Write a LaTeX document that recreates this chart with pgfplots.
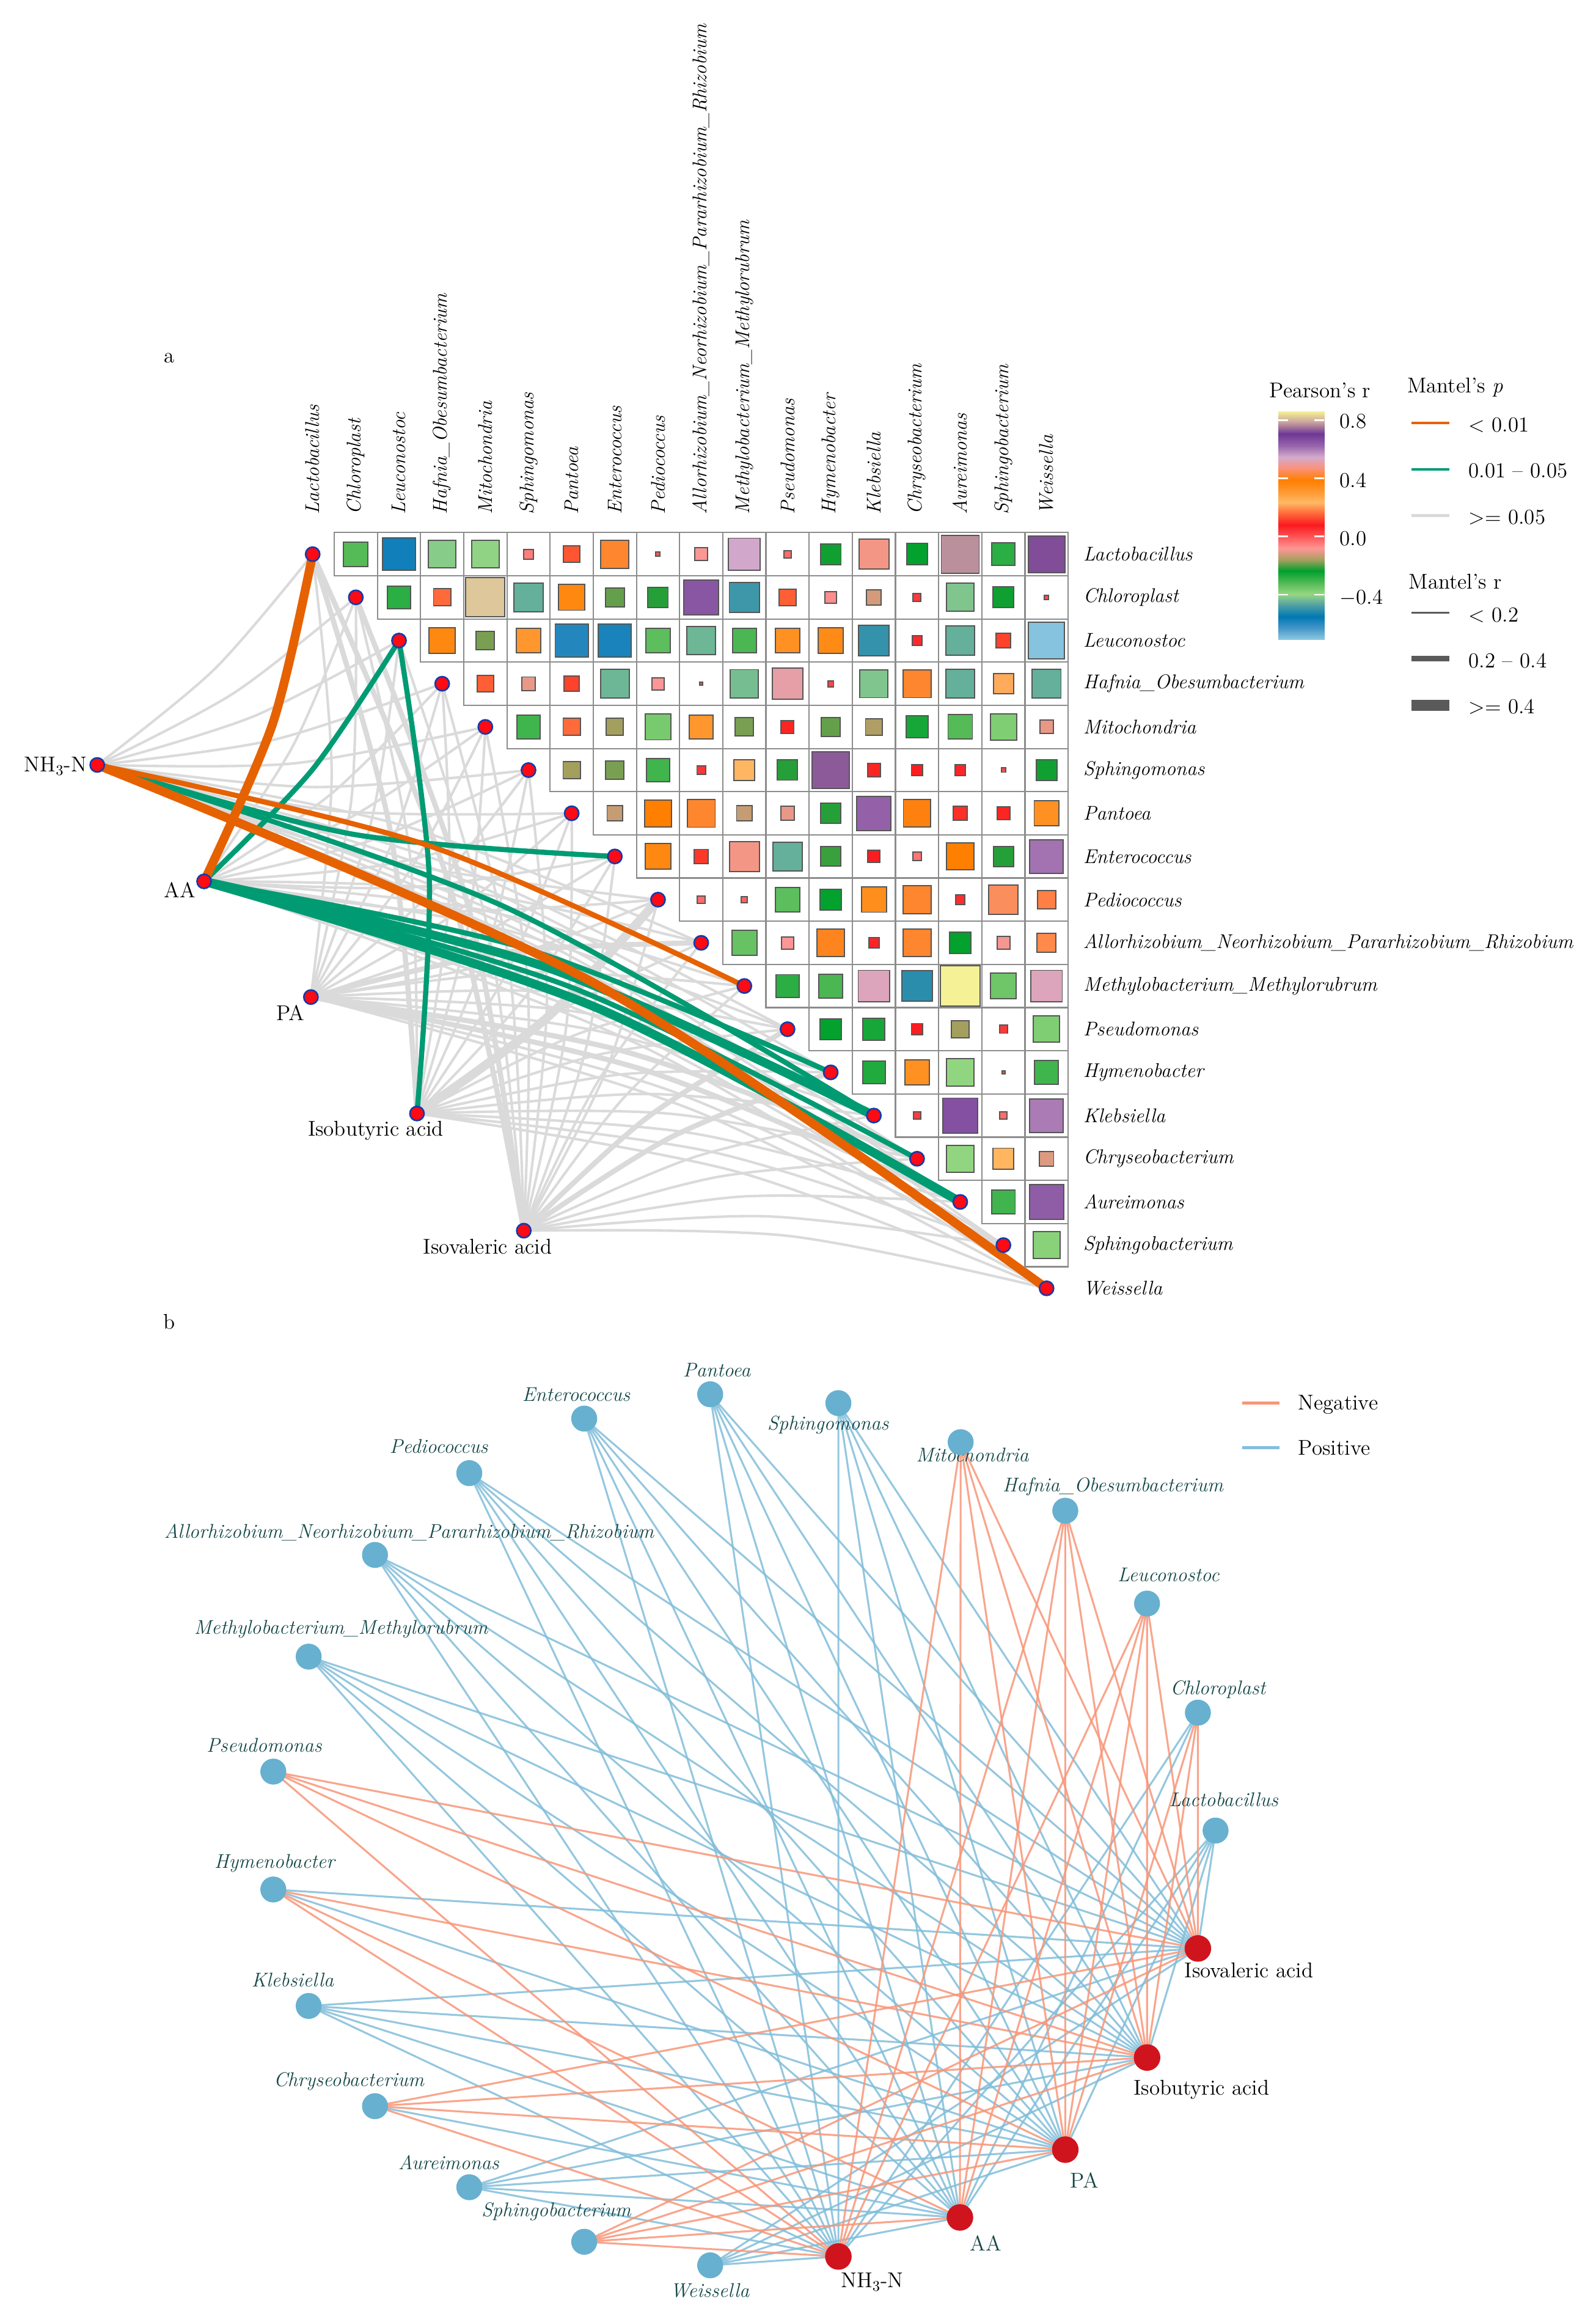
\documentclass[border=0pt]{standalone}
\usepackage{pgfplots}
\usepackage{pgfplotstable}
\pgfplotsset{compat=1.18}

\definecolor{lgray}{RGB}{218,218,218}
\definecolor{lorange}{RGB}{230,97,0}
\definecolor{lgreen}{RGB}{0,155,115}
\definecolor{gridc}{RGB}{140,140,140}
\definecolor{sqb}{RGB}{85,85,85}
\definecolor{dotred}{RGB}{255,10,20}
\definecolor{dotblue}{RGB}{20,60,170}
\definecolor{nodeblue}{RGB}{103,176,208}
\definecolor{nodered}{RGB}{208,20,30}
\definecolor{negc}{RGB}{248,150,120}
\definecolor{posc}{RGB}{130,190,218}
\definecolor{labteal}{RGB}{22,72,72}
\definecolor{legdark}{RGB}{90,90,90}

\newcommand\lab{\fontsize{13.5}{16}\selectfont}
\newcommand\labr{\fontsize{14.5}{17}\selectfont}
% one Mantel link: env point, bend point, taxon point
\newcommand\lk[4]{\addplot[#1] coordinates {(#2) (#3) (#4)};}
% network edges from one taxon to all five env nodes
\newcommand\eall[2]{\addplot[#1] coordinates {(#2) (569,1531) (#2) (651.5,1504.5) (#2) (723,1458.5) (#2) (778.5,1396) (#2) (813,1322)};}

\pgfplotsset{
  lkg/.style={smooth, no markers, draw=lgray, line width=1.7pt},
  lkgm/.style={lkg, line width=3.5pt},
  lkgt/.style={lkg, line width=6pt},
  lkom/.style={smooth, no markers, draw=lorange, line width=3.5pt},
  lkot/.style={lkom, line width=6pt},
  lkem/.style={smooth, no markers, draw=lgreen, line width=3.5pt},
  lket/.style={lkem, line width=6pt},
  edgep/.style={no markers, draw=posc, line width=1.3pt, line join=round, opacity=0.85},
  edgen/.style={no markers, draw=negc, line width=1.3pt, line join=round, opacity=0.85},
}
\tikzset{
  cl/.style={rotate=90, anchor=west, inner sep=0pt, font=\lab\itshape},
  rl/.style={anchor=west, inner sep=0pt, font=\lab\itshape},
  bl/.style={inner sep=0pt, font=\lab\itshape, text=labteal},
  tx/.style={inner sep=0pt, font=\labr},
}

% Pearson's r between taxa (row i, column j)
\pgfplotstableread{
i j r
0 1 -0.32
0 2 -0.57
0 3 -0.41
0 4 -0.40
0 5 -0.05
0 6 0.14
0 7 0.42
0 8 -0.01
0 9 -0.085
0 10 0.55
0 11 -0.03
0 12 -0.23
0 13 0.48
0 14 -0.24
0 15 0.77
0 16 -0.28
0 17 0.72
1 2 -0.28
1 3 0.16
1 4 0.82
1 5 -0.45
1 6 0.36
1 7 -0.19
1 8 -0.22
1 9 0.65
1 10 -0.49
1 11 0.15
1 12 -0.07
1 13 -0.12
1 14 0.035
1 15 -0.42
1 16 -0.23
1 17 0.01
2 3 0.36
2 4 -0.18
2 5 0.31
2 6 -0.59
2 7 -0.58
2 8 -0.33
2 9 -0.44
2 10 -0.31
2 11 0.33
2 12 0.35
2 13 -0.50
2 14 0.055
2 15 -0.45
2 16 0.12
2 17 -0.70
3 4 0.15
3 5 -0.10
3 6 0.12
3 7 -0.44
3 8 -0.08
3 9 0.005
3 10 -0.43
3 11 0.51
3 12 0.02
3 13 -0.42
3 14 0.42
3 15 -0.45
3 16 0.22
3 17 -0.45
4 5 -0.30
4 6 0.16
4 7 -0.16
4 8 -0.36
4 9 0.31
4 10 -0.18
4 11 0.09
4 12 -0.19
4 13 -0.15
4 14 -0.26
4 15 -0.32
4 16 -0.37
4 17 -0.10
5 6 -0.16
5 7 -0.18
5 8 -0.30
5 9 0.04
5 10 0.23
5 11 -0.22
5 12 0.73
5 13 0.09
5 14 0.07
5 15 0.06
5 16 0.01
5 17 -0.23
6 7 -0.13
6 8 0.39
6 9 0.42
6 10 -0.13
6 11 -0.10
6 12 -0.22
6 13 0.63
6 14 0.40
6 15 0.10
6 16 0.09
6 17 0.33
7 8 0.36
7 9 0.11
7 10 0.48
7 11 -0.45
7 12 -0.21
7 13 0.08
7 14 -0.04
7 15 0.39
7 16 -0.22
7 17 0.61
8 9 -0.03
8 10 -0.02
8 11 -0.33
8 12 -0.24
8 13 0.34
8 14 0.42
8 15 0.05
8 16 0.45
8 17 0.18
9 10 -0.34
9 11 -0.08
9 12 0.41
9 13 0.06
9 14 0.42
9 15 -0.24
9 16 -0.09
9 17 0.19
10 11 -0.28
10 12 -0.31
10 13 0.53
10 14 -0.51
10 15 0.86
10 16 -0.35
10 17 0.53
11 12 -0.24
11 13 -0.26
11 14 0.07
11 15 -0.16
11 16 0.035
11 17 -0.37
12 13 -0.27
12 14 0.33
12 15 -0.39
12 16 0.005
12 17 -0.30
13 14 0.03
13 15 0.66
13 16 -0.03
13 17 0.60
14 15 -0.39
14 16 0.24
14 17 -0.11
15 16 -0.30
15 17 0.64
16 17 -0.38
}\cells

% colour bar of Pearson's r
\pgfplotstableread{
x y m
867.4 433.9 -0.708
898.8 433.9 -0.708
867.4 426.2 -0.6296
898.8 426.2 -0.6296
867.4 418.4 -0.5511
898.8 418.4 -0.5511
867.4 410.7 -0.4727
898.8 410.7 -0.4727
867.4 402.9 -0.3942
898.8 402.9 -0.3942
867.4 395.2 -0.3158
898.8 395.2 -0.3158
867.4 387.4 -0.2373
898.8 387.4 -0.2373
867.4 379.7 -0.1589
898.8 379.7 -0.1589
867.4 371.9 -0.0804
898.8 371.9 -0.0804
867.4 364.2 -0.0020
898.8 364.2 -0.0020
867.4 356.4 0.0765
898.8 356.4 0.0765
867.4 348.7 0.1549
898.8 348.7 0.1549
867.4 341.0 0.2334
898.8 341.0 0.2334
867.4 333.2 0.3118
898.8 333.2 0.3118
867.4 325.5 0.3903
898.8 325.5 0.3903
867.4 317.7 0.4687
898.8 317.7 0.4687
867.4 310.0 0.5472
898.8 310.0 0.5472
867.4 302.2 0.6256
898.8 302.2 0.6256
867.4 294.5 0.7041
898.8 294.5 0.7041
867.4 286.7 0.7825
898.8 286.7 0.7825
867.4 279.0 0.861
898.8 279.0 0.861
}\cbar

\begin{document}
\begin{tikzpicture}
\begin{axis}[
  width=1083pt, height=1568pt, scale only axis,
  xmin=0, xmax=1083, ymin=0, ymax=1568, y dir=reverse,
  enlargelimits=false, hide axis, clip=false,
  colormap={pearson}{
    rgb255(0pt)=(140,200,225); rgb255(5pt)=(70,150,200);
    rgb255(10pt)=(0,120,180); rgb255(15pt)=(80,160,165);
    rgb255(20pt)=(150,215,130); rgb255(25pt)=(80,185,85);
    rgb255(30pt)=(0,160,45); rgb255(35pt)=(165,160,95);
    rgb255(40pt)=(255,150,150); rgb255(45pt)=(255,85,85);
    rgb255(50pt)=(250,25,30); rgb255(55pt)=(255,100,55);
    rgb255(60pt)=(255,185,100); rgb255(65pt)=(255,150,45);
    rgb255(70pt)=(255,127,0); rgb255(75pt)=(250,146,122);
    rgb255(80pt)=(212,170,205); rgb255(85pt)=(150,100,170);
    rgb255(90pt)=(110,55,150); rgb255(95pt)=(200,160,158);
    rgb255(100pt)=(245,242,150)},
  point meta min=-0.708, point meta max=0.861,
]
\addplot[draw=none, fill=white] coordinates {(0,0) (1083,0) (1083,1568) (0,1568) (0,0)};

% ---------- a: Mantel links ----------
\lk{lkg}{66,519}{145.5,454.1}{212.2,376}
\lk{lkg}{66,519}{158.9,470.1}{241.5,405.3}
\lk{lkg}{66,519}{172.2,486.0}{270.8,434.6}
\lk{lkg}{66,519}{185.5,502.0}{300.1,463.9}
\lk{lkg}{66,519}{198.9,518.0}{329.4,493.2}
\lk{lkg}{66,519}{212.2,534.0}{358.7,522.5}
\lk{lkg}{66,519}{225.5,549.9}{388.0,551.8}
\lk{lkg}{66,519}{252.2,581.9}{446.6,610.4}
\lk{lkg}{66,519}{276.4,560.9}{475.9,639.7}
\lk{lkg}{66,519}{308.3,587.6}{534.5,698.3}
\lk{lkg}{66,519}{324.3,600.9}{563.8,727.6}
\lk{lkg}{66,519}{356.2,627.5}{622.4,786.2}
\lk{lkg}{66,519}{372.2,640.9}{651.7,815.5}
\lk{lkg}{66,519}{388.1,654.2}{681.0,844.8}

\lk{lkg}{138.5,598}{198.7,506.3}{241.5,405.3}
\lk{lkg}{138.5,598}{225.3,538.2}{300.1,463.9}
\lk{lkg}{138.5,598}{238.6,554.2}{329.4,493.2}
\lk{lkg}{138.5,598}{252.0,570.1}{358.7,522.5}
\lk{lkg}{138.5,598}{265.3,586.1}{388.0,551.8}
\lk{lkg}{138.5,598}{278.6,602.1}{417.3,581.1}
\lk{lkg}{138.5,598}{292.0,618.1}{446.6,610.4}
\lk{lkg}{138.5,598}{309.1,603.7}{475.9,639.7}
\lk{lkg}{138.5,598}{325.0,617.0}{505.2,669.0}
\lk{lkg}{138.5,598}{341.0,630.4}{534.5,698.3}
\lk{lkg}{138.5,598}{420.9,697.0}{681.0,844.8}
\lk{lkg}{138.5,598}{436.8,710.3}{710.3,874.1}

\lk{lkg}{211,676.5}{225.1,526.3}{212.2,376}
\lk{lkg}{211,676.5}{238.5,542.3}{241.5,405.3}
\lk{lkg}{211,676.5}{251.8,558.2}{270.8,434.6}
\lk{lkg}{211,676.5}{265.1,574.2}{300.1,463.9}
\lk{lkg}{211,676.5}{278.4,590.2}{329.4,493.2}
\lk{lkg}{211,676.5}{291.8,606.2}{358.7,522.5}
\lk{lkg}{211,676.5}{305.1,622.1}{388.0,551.8}
\lk{lkg}{211,676.5}{318.4,638.1}{417.3,581.1}
\lk{lkg}{211,676.5}{331.8,654.1}{446.6,610.4}
\lk{lkg}{211,676.5}{357.8,659.5}{505.2,669.0}
\lk{lkg}{211,676.5}{373.7,672.8}{534.5,698.3}
\lk{lkg}{211,676.5}{389.7,686.2}{563.8,727.6}
\lk{lkg}{211,676.5}{405.7,699.5}{593.1,756.9}
\lk{lkg}{211,676.5}{453.6,739.5}{681.0,844.8}
\lk{lkg}{211,676.5}{469.5,752.8}{710.3,874.1}

\lk{lkg}{283,755.5}{278.0,578.5}{241.5,405.3}
\lk{lkg}{283,755.5}{304.7,610.5}{300.1,463.9}
\lk{lkg}{283,755.5}{318.0,626.5}{329.4,493.2}
\lk{lkg}{283,755.5}{331.3,642.4}{358.7,522.5}
\lk{lkg}{283,755.5}{344.7,658.4}{388.0,551.8}
\lk{lkg}{283,755.5}{358.0,674.4}{417.3,581.1}
\lk{lkg}{283,755.5}{374.2,688.9}{475.9,639.7}
\lk{lkg}{283,755.5}{390.2,702.3}{505.2,669.0}
\lk{lkg}{283,755.5}{406.2,715.6}{534.5,698.3}
\lk{lkg}{283,755.5}{422.1,728.9}{563.8,727.6}
\lk{lkg}{283,755.5}{438.1,742.2}{593.1,756.9}
\lk{lkg}{283,755.5}{454.1,755.6}{622.4,786.2}
\lk{lkg}{283,755.5}{470.0,768.9}{651.7,815.5}
\lk{lkg}{283,755.5}{486.0,782.2}{681.0,844.8}
\lk{lkg}{283,755.5}{502.0,795.5}{710.3,874.1}

\lk{lkg}{355.5,835}{331.2,631.0}{270.8,434.6}
\lk{lkg}{355.5,835}{344.5,647.0}{300.1,463.9}
\lk{lkg}{355.5,835}{357.8,663.0}{329.4,493.2}
\lk{lkg}{355.5,835}{371.2,678.9}{358.7,522.5}
\lk{lkg}{355.5,835}{384.5,694.9}{388.0,551.8}
\lk{lkg}{355.5,835}{397.8,710.9}{417.3,581.1}
\lk{lkg}{355.5,835}{411.2,726.9}{446.6,610.4}
\lk{lkg}{355.5,835}{406.9,731.9}{475.9,639.7}
\lk{lkg}{355.5,835}{422.9,745.3}{505.2,669.0}
\lk{lkg}{355.5,835}{470.8,785.2}{593.1,756.9}
\lk{lkg}{355.5,835}{486.7,798.6}{622.4,786.2}
\lk{lkg}{355.5,835}{502.7,811.9}{651.7,815.5}
\lk{lkg}{355.5,835}{518.7,825.2}{681.0,844.8}
\lk{lkg}{355.5,835}{534.6,838.5}{710.3,874.1}

\lk{lkgm}{355.5,835}{304.5,599.1}{212.2,376}
\lk{lkgm}{283,755.5}{264.7,562.6}{212.2,376}
\lk{lkgm}{355.5,835}{317.8,615.0}{241.5,405.3}
\lk{lkgm}{355.5,835}{438.8,758.6}{534.5,698.3}
\lk{lkgm}{355.5,835}{454.8,771.9}{563.8,727.6}
\lk{lkgm}{211,676.5}{341.8,646.2}{475.9,639.7}
\lk{lkgm}{211,676.5}{421.6,712.8}{622.4,786.2}
\lk{lkgm}{211,676.5}{437.6,726.1}{651.7,815.5}
\lk{lkgt}{283,755.5}{371.3,690.4}{446.6,610.4}

\lk{lkem}{138.5,598}{357.0,643.7}{563.8,727.6}
\lk{lket}{138.5,598}{373.0,657.0}{593.1,756.9}
\lk{lkem}{138.5,598}{388.9,670.3}{622.4,786.2}
\lk{lket}{138.5,598}{404.9,683.7}{651.7,815.5}
\lk{lkem}{66,519}{340.2,614.2}{593.1,756.9}
\lk{lkem}{66,519}{238.8,565.9}{417.3,581.1}
\lk{lkem}{138.5,598}{212.0,522.2}{270.8,434.6}
\lk{lkem}{283,755.5}{291.3,594.5}{270.8,434.6}
\lk{lkom}{66,519}{292.3,574.2}{505.2,669.0}
\lk{lkot}{66,519}{404.1,667.5}{710.3,874.1}
\lk{lkot}{138.5,598}{185.3,490.3}{212.2,376}

% ---------- a: correlation grid ----------
\addplot[only marks, mark=square, mark size=14.65, color=gridc, mark options={line width=0.9pt}]
  table[x expr={212.2+29.3*\thisrow{j}}, y expr={376+29.3*\thisrow{i}}] {\cells};
\addplot[scatter, only marks, mark=square*,
  scatter/use mapped color={draw=sqb, fill=mapped color},
  mark options={line width=0.8pt},
  point meta=\thisrow{r},
  visualization depends on={14.65*sqrt(abs(\thisrow{r})) \as \hs},
  scatter/@pre marker code/.append style={/tikz/mark size=\hs}]
  table[x expr={212.2+29.3*\thisrow{j}}, y expr={376+29.3*\thisrow{i}}] {\cells};

\addplot[only marks, mark=*, mark size=4.8, mark options={fill=dotred, draw=dotblue, line width=1.1pt}]
  coordinates {(212.2,376) (241.5,405.3) (270.8,434.6) (300.1,463.9) (329.4,493.2) (358.7,522.5)
  (388.0,551.8) (417.3,581.1) (446.6,610.4) (475.9,639.7) (505.2,669.0) (534.5,698.3)
  (563.8,727.6) (593.1,756.9) (622.4,786.2) (651.7,815.5) (681.0,844.8) (710.3,874.1)
  (66,519) (138.5,598) (211,676.5) (283,755.5) (355.5,835)};

% ---------- a: labels ----------
\node[tx] at (115,243) {a};
\node[cl] at (212.2,349) {Lactobacillus};
\node[cl] at (241.5,349) {Chloroplast};
\node[cl] at (270.8,349) {Leuconostoc};
\node[cl] at (300.1,349) {Hafnia\_Obesumbacterium};
\node[cl] at (329.4,349) {Mitochondria};
\node[cl] at (358.7,349) {Sphingomonas};
\node[cl] at (388.0,349) {Pantoea};
\node[cl] at (417.3,349) {Enterococcus};
\node[cl] at (446.6,349) {Pediococcus};
\node[cl] at (475.9,349) {Allorhizobium\_Neorhizobium\_Pararhizobium\_Rhizobium};
\node[cl] at (505.2,349) {Methylobacterium\_Methylorubrum};
\node[cl] at (534.5,349) {Pseudomonas};
\node[cl] at (563.8,349) {Hymenobacter};
\node[cl] at (593.1,349) {Klebsiella};
\node[cl] at (622.4,349) {Chryseobacterium};
\node[cl] at (651.7,349) {Aureimonas};
\node[cl] at (681.0,349) {Sphingobacterium};
\node[cl] at (710.3,349) {Weissella};

\node[rl] at (735,376.0) {Lactobacillus};
\node[rl] at (735,405.3) {Chloroplast};
\node[rl] at (735,434.6) {Leuconostoc};
\node[rl] at (735,463.9) {Hafnia\_Obesumbacterium};
\node[rl] at (735,493.2) {Mitochondria};
\node[rl] at (735,522.5) {Sphingomonas};
\node[rl] at (735,551.8) {Pantoea};
\node[rl] at (735,581.1) {Enterococcus};
\node[rl] at (735,610.4) {Pediococcus};
\node[rl] at (735,639.7) {Allorhizobium\_Neorhizobium\_Pararhizobium\_Rhizobium};
\node[rl] at (735,669.0) {Methylobacterium\_Methylorubrum};
\node[rl] at (735,698.3) {Pseudomonas};
\node[rl] at (735,727.6) {Hymenobacter};
\node[rl] at (735,756.9) {Klebsiella};
\node[rl] at (735,786.2) {Chryseobacterium};
\node[rl] at (735,815.5) {Aureimonas};
\node[rl] at (735,844.8) {Sphingobacterium};
\node[rl] at (735,874.1) {Weissella};

\node[tx, anchor=east] at (59,520) {NH\textsubscript{3}-N};
\node[tx] at (122,604) {AA};
\node[tx] at (197,687) {PA};
\node[tx] at (255,767) {Isobutyric acid};
\node[tx] at (331,846) {Isovaleric acid};

% ---------- a: legends ----------
\addplot[surf, shader=interp, mesh/cols=2, point meta=\thisrow{m}] table {\cbar};
\addplot[white, line width=1.2pt] coordinates {(867.4,285) (874,285)};
\addplot[white, line width=1.2pt] coordinates {(892.2,285) (898.8,285)};
\addplot[white, line width=1.2pt] coordinates {(867.4,324.5) (874,324.5)};
\addplot[white, line width=1.2pt] coordinates {(892.2,324.5) (898.8,324.5)};
\addplot[white, line width=1.2pt] coordinates {(867.4,364) (874,364)};
\addplot[white, line width=1.2pt] coordinates {(892.2,364) (898.8,364)};
\addplot[white, line width=1.2pt] coordinates {(867.4,403.5) (874,403.5)};
\addplot[white, line width=1.2pt] coordinates {(892.2,403.5) (898.8,403.5)};
\node[tx] at (896,265) {Pearson's r};
\node[tx, anchor=west] at (909,286) {0.8};
\node[tx, anchor=west] at (909,326) {0.4};
\node[tx, anchor=west] at (909,365.5) {0.0};
\node[tx, anchor=west] at (909,405.5) {$-$0.4};

\node[tx, anchor=west] at (955,263) {Mantel's \textit{p}};
\addplot[lorange, line width=2pt] coordinates {(958,287) (983.6,287)};
\addplot[lgreen, line width=2pt] coordinates {(958,318.5) (983.6,318.5)};
\addplot[lgray, line width=2pt] coordinates {(958,349.8) (983.6,349.8)};
\node[tx, anchor=west] at (996.6,288.5) {< 0.01};
\node[tx, anchor=west] at (996.6,319.5) {0.01 -- 0.05};
\node[tx, anchor=west] at (996.6,351) {>= 0.05};

\node[tx, anchor=west] at (956,394.6) {Mantel's r};
\addplot[legdark, line width=1.5pt] coordinates {(958,415.8) (983.6,415.8)};
\addplot[legdark, line width=3.8pt] coordinates {(958,447) (983.6,447)};
\addplot[legdark, line width=7.5pt] coordinates {(958,478.5) (983.6,478.5)};
\node[tx, anchor=west] at (996.6,417.3) {< 0.2};
\node[tx, anchor=west] at (996.6,448.3) {0.2 -- 0.4};
\node[tx, anchor=west] at (996.6,479.5) {>= 0.4};

% ---------- b: network edges ----------
\eall{edgep}{396.5,962.5}
\eall{edgep}{482,946}
\eall{edgep}{569,952}
\eall{edgep}{825,1242}
\eall{edgep}{318.5,999.5}
\eall{edgep}{254.5,1055}
\eall{edgep}{209.5,1124}
\eall{edgep}{209.5,1361}
\eall{edgep}{318.5,1484}
\eall{edgep}{482,1537}
\addplot[edgep] coordinates {(813,1162) (569,1531) (813,1162) (651.5,1504.5)};
\addplot[edgep] coordinates {(185.5,1282) (813,1322) (185.5,1282) (723,1458.5)};
\addplot[edgep] coordinates {(254.5,1429) (651.5,1504.5)};

\eall{edgen}{652,978.5}
\eall{edgen}{723,1025}
\eall{edgen}{778.5,1088}
\eall{edgen}{396.5,1521}
\addplot[edgen] coordinates {(813,1162) (723,1458.5) (813,1162) (778.5,1396) (813,1162) (813,1322)};
\addplot[edgen] coordinates {(185.5,1202) (569,1531) (185.5,1202) (723,1458.5) (185.5,1202) (778.5,1396) (185.5,1202) (813,1322)};
\addplot[edgen] coordinates {(185.5,1282) (569,1531) (185.5,1282) (651.5,1504.5) (185.5,1282) (778.5,1396)};
\addplot[edgen] coordinates {(254.5,1429) (569,1531) (254.5,1429) (723,1458.5) (254.5,1429) (778.5,1396) (254.5,1429) (813,1322)};

% ---------- b: nodes ----------
\addplot[only marks, mark=*, mark size=8.6, color=nodeblue]
  coordinates {(396.5,962.5) (482,946) (569,952) (652,978.5) (723,1025) (778.5,1088) (813,1162)
  (825,1242) (318.5,999.5) (254.5,1055) (209.5,1124) (185.5,1202) (185.5,1282) (209.5,1361)
  (254.5,1429) (318.5,1484) (396.5,1521) (482,1537)};
\addplot[only marks, mark=*, mark size=8.8, color=nodered]
  coordinates {(569,1531) (651.5,1504.5) (723,1458.5) (778.5,1396) (813,1322)};

% ---------- b: labels ----------
\node[tx] at (115,897) {b};
\node[bl] at (391,946) {Enterococcus};
\node[bl] at (486.5,929.4) {Pantoea};
\node[bl] at (562,967) {Sphingomonas};
\node[bl] at (660,987.3) {Mitochondria};
\node[bl] at (755.3,1008.5) {Hafnia\_Obesumbacterium};
\node[bl] at (793,1068.5) {Leuconostoc};
\node[bl] at (826.6,1146.3) {Chloroplast};
\node[bl] at (830.5,1221.1) {Lactobacillus};
\node[bl] at (297.8,981.2) {Pediococcus};
\node[bl] at (277.6,1039.9) {Allorhizobium\_Neorhizobium\_Pararhizobium\_Rhizobium};
\node[bl] at (231.4,1105.5) {Methylobacterium\_Methylorubrum};
\node[bl] at (179.3,1184) {Pseudomonas};
\node[bl] at (186.3,1264.2) {Hymenobacter};
\node[bl] at (198.6,1343.4) {Klebsiella};
\node[bl] at (236.8,1412.4) {Chryseobacterium};
\node[bl] at (304.5,1467.1) {Aureimonas};
\node[bl] at (377.5,1500.6) {Sphingobacterium};
\node[bl] at (481.7,1553.9) {Weissella};
\node[tx] at (847.6,1337) {Isovaleric acid};
\node[tx] at (815.4,1418) {Isobutyric acid};
\node[tx, text=labteal] at (736,1479.4) {PA};
\node[tx, text=labteal] at (669,1522) {AA};
\node[tx] at (592,1548.4) {NH\textsubscript{3}-N};

\addplot[negc, line width=2pt] coordinates {(843.2,952) (868.4,952)};
\addplot[posc, line width=2pt] coordinates {(843.2,982.2) (868.4,982.2)};
\node[tx, anchor=west] at (881,953) {Negative};
\node[tx, anchor=west] at (881,982.5) {Positive};
\end{axis}
\pgfresetboundingbox
\path[use as bounding box] (current axis.south west) rectangle (current axis.north east);
\end{tikzpicture}
\end{document}
